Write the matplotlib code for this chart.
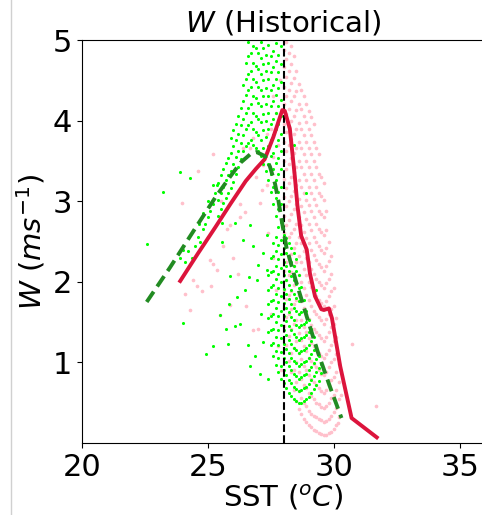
import matplotlib
matplotlib.use("Agg")
import matplotlib.pyplot as plt
from matplotlib.lines import Line2D

# plot colors
crimson = "#DC143C"
forest_green = "#228B22"
lime = "#00FF00"
pink = "#FFC0CB"

# mean curves
obs_sst = [23.9, 24.6, 25.3, 25.9, 26.5, 26.9, 27.25, 27.6, 27.95, 28.05, 28.25, 28.45,
           28.55, 28.7, 28.92, 29.05, 29.25, 29.5, 29.6, 29.8, 29.92, 30.25, 30.7, 31.7]
obs_w = [2.01, 2.35, 2.68, 2.97, 3.25, 3.40, 3.52, 3.80, 4.13, 4.12, 3.90, 3.30,
         2.95, 2.57, 2.40, 2.10, 1.82, 1.66, 1.65, 1.67, 1.55, 0.95, 0.31, 0.07]

model_sst = [22.57, 23.5, 24.55, 25.3, 25.87, 26.3, 26.67, 26.93, 27.26, 27.46, 27.66,
             27.8, 27.95, 28.12, 28.5, 28.92, 29.38, 29.84, 30.3]
model_w = [1.75, 2.18, 2.69, 3.05, 3.30, 3.48, 3.58, 3.61, 3.56, 3.43, 3.22,
           3.00, 2.72, 2.42, 2.00, 1.57, 1.11, 0.70, 0.31]

# pink cloud, column by column
pink_col_sst = [28.0, 28.1, 28.2, 28.3, 28.4, 28.5, 28.6, 28.7, 28.8, 28.9, 29.0, 29.1,
                29.2, 29.3, 29.4, 29.5, 29.6, 29.7, 29.8, 29.9, 30.0, 30.1, 30.2]
pink_col_w = [
    [1.45, 1.68, 1.9, 2.14, 2.36, 2.6, 2.82, 3.05, 3.28, 3.5, 3.74, 3.96, 4.2, 4.42, 4.66, 4.88],
    [1.22, 1.56, 1.79, 2.02, 2.25, 2.48, 2.71, 2.94, 3.17, 3.4, 3.62, 3.86, 4.08, 4.31, 4.54, 4.77, 4.98],
    [1.02, 1.33, 1.6, 1.84, 2.08, 2.3, 2.55, 2.77, 3.0, 3.23, 3.46, 3.7, 3.92, 4.15, 4.38, 4.61, 4.84],
    [0.88, 1.12, 1.42, 1.66, 1.88, 2.12, 2.35, 2.6, 2.84, 3.07, 3.3, 3.53, 3.77, 4.0, 4.24, 4.47, 4.7, 4.93],
    [0.66, 0.9, 1.18, 1.48, 1.72, 1.96, 2.2, 2.42, 2.66, 2.9, 3.13, 3.36, 3.6, 3.83, 4.06, 4.3, 4.53, 4.8],
    [0.52, 0.76, 1.0, 1.26, 1.52, 1.77, 2.0, 2.25, 2.48, 2.72, 2.96, 3.2, 3.43, 3.66, 3.9, 4.13, 4.37, 4.62],
    [0.42, 0.64, 0.88, 1.12, 1.36, 1.6, 1.84, 2.08, 2.32, 2.55, 2.8, 3.03, 3.26, 3.5, 3.73, 3.97, 4.2, 4.45],
    [0.36, 0.56, 0.8, 1.04, 1.28, 1.52, 1.76, 2.0, 2.24, 2.48, 2.7, 2.94, 3.18, 3.42, 3.66, 3.9, 4.14, 4.38],
    [0.3, 0.5, 0.72, 0.96, 1.2, 1.44, 1.68, 1.92, 2.16, 2.38, 2.62, 2.86, 3.1, 3.34, 3.58, 3.82, 4.06, 4.3],
    [0.26, 0.46, 0.68, 0.9, 1.14, 1.38, 1.6, 1.84, 2.08, 2.3, 2.54, 2.78, 3.02, 3.26, 3.5, 3.74, 3.98, 4.2],
    [0.22, 0.4, 0.62, 0.84, 1.06, 1.3, 1.54, 1.78, 2.0, 2.24, 2.48, 2.72, 2.95, 3.18, 3.42, 3.66, 3.9, 4.12],
    [0.2, 0.36, 0.58, 0.8, 1.02, 1.24, 1.46, 1.7, 1.94, 2.16, 2.4, 2.64, 2.88, 3.1, 3.34, 3.58, 3.82, 4.04],
    [0.16, 0.34, 0.54, 0.76, 0.98, 1.2, 1.42, 1.64, 1.87, 2.1, 2.33, 2.56, 2.8, 3.03, 3.26, 3.5, 3.74, 3.96],
    [0.15, 0.32, 0.5, 0.72, 0.94, 1.16, 1.38, 1.6, 1.82, 2.04, 2.27, 2.5, 2.72, 2.95, 3.18, 3.42, 3.66],
    [0.13, 0.3, 0.48, 0.68, 0.9, 1.12, 1.34, 1.56, 1.78, 2.0, 2.22, 2.44, 2.66, 2.88, 3.1, 3.34, 3.58],
    [0.11, 0.28, 0.45, 0.65, 0.86, 1.08, 1.3, 1.52, 1.74, 1.96, 2.18, 2.4, 2.62, 2.84, 3.06, 3.3],
    [0.1, 0.26, 0.44, 0.62, 0.84, 1.05, 1.27, 1.48, 1.7, 1.92, 2.14, 2.36, 2.58, 2.8, 3.02, 3.22],
    [0.1, 0.27, 0.46, 0.66, 0.88, 1.1, 1.32, 1.54, 1.76, 1.98, 2.2, 2.42, 2.64, 2.88],
    [0.12, 0.3, 0.5, 0.72, 0.94, 1.16, 1.38, 1.6, 1.82, 2.04, 2.26, 2.5],
    [0.14, 0.34, 0.56, 0.78, 1.0, 1.22, 1.44, 1.66, 1.88, 2.1, 2.32],
    [0.17, 0.38, 0.6, 0.82, 1.04, 1.26, 1.48, 1.7, 1.92],
    [0.22, 0.44, 0.66, 0.88, 1.1, 1.32, 1.55],
    [0.32, 0.54, 0.76, 0.98],
]
pink_extra_sst = [24.62, 23.99, 25.08, 25.2, 25.35, 24.4, 24.55, 24.75, 25.48, 25.87,
                  26.53, 27.0, 26.8, 25.14, 25.74, 25.87, 26.27, 27.06, 26.47, 26.27,
                  27.13, 27.33, 25.21, 26.8, 27.33, 26.67, 26.4, 27.5, 27.7, 27.8,
                  27.6, 27.85, 24.1, 24.3, 25.6, 26.0, 26.2, 27.4, 27.6, 27.7,
                  27.5, 27.8, 27.9, 30.7, 31.67, 30.16, 30.3, 26.9, 27.2, 27.6,
                  25.5, 25.0]
pink_extra_w = [3.37, 2.98, 2.27, 2.22, 2.15, 2.02, 1.95, 1.88, 1.59, 1.71,
                1.70, 1.42, 1.40, 1.95, 2.65, 2.71, 2.81, 2.98, 2.87, 2.96,
                3.14, 3.20, 3.58, 3.79, 3.83, 3.66, 3.66, 3.90, 4.10, 3.70,
                4.30, 4.50, 1.85, 1.65, 2.45, 2.30, 2.10, 2.60, 2.30, 1.90,
                1.60, 1.20, 0.90, 1.23, 0.46, 0.25, 0.60, 3.30, 3.45, 3.55,
                3.00, 2.55]

# green cloud, upper part (column by column)
green_top_sst = [25.4, 25.5, 25.6, 25.7, 25.8, 25.9, 26.0, 26.1, 26.2, 26.3, 26.4, 26.5,
                 26.6, 26.7, 26.8, 26.9, 27.0, 27.1, 27.2, 27.3, 27.4, 27.5, 27.6, 27.7,
                 27.8, 27.9]
green_top_w = [
    [2.82, 3.02, 3.22],
    [2.9, 3.1, 3.32],
    [2.98, 3.18, 3.4],
    [3.04, 3.26, 3.48],
    [3.1, 3.32, 3.54],
    [3.16, 3.38, 3.6, 3.78],
    [3.24, 3.46, 3.68, 3.88],
    [3.34, 3.55, 3.76, 3.96],
    [3.42, 3.62, 3.84, 4.06],
    [3.52, 3.72, 3.94, 4.16],
    [3.62, 3.82, 4.02, 4.24, 4.44],
    [3.68, 3.9, 4.1, 4.32, 4.52, 4.72],
    [3.72, 3.94, 4.16, 4.38, 4.58, 4.8, 4.98],
    [3.76, 3.98, 4.2, 4.42, 4.62, 4.84],
    [3.7, 3.9, 4.1, 4.3, 4.52, 4.72, 4.92],
    [3.66, 3.86, 4.06, 4.28, 4.48, 4.68, 4.9],
    [3.62, 3.82, 4.02, 4.22, 4.42, 4.64, 4.84],
    [3.56, 3.76, 3.98, 4.18, 4.38, 4.58, 4.78, 4.98],
    [3.46, 3.66, 3.88, 4.08, 4.3, 4.5, 4.7, 4.9],
    [3.38, 3.58, 3.8, 4.0, 4.2, 4.4, 4.62, 4.82],
    [3.26, 3.46, 3.68, 3.9, 4.1, 4.3, 4.52, 4.72, 4.94],
    [3.12, 3.34, 3.56, 3.76, 3.96, 4.18, 4.38, 4.6, 4.8],
    [2.96, 3.18, 3.4, 3.6, 3.82, 4.02, 4.24, 4.44, 4.66, 4.86],
    [2.82, 3.04, 3.26, 3.48, 3.68, 3.9, 4.1, 4.32, 4.52, 4.74, 4.96],
    [2.68, 2.9, 3.12, 3.34, 3.54, 3.76, 3.96, 4.18, 4.4, 4.6, 4.82],
    [2.52, 2.74, 2.96, 3.18, 3.4, 3.62, 3.84, 4.06, 4.26, 4.48, 4.7, 4.92],
]

# green cloud, lower dense part (column by column)
green_low_sst = [27.4, 27.5, 27.6, 27.7, 27.8, 27.9, 28.0, 28.1, 28.2, 28.3, 28.4,
                 28.5, 28.6, 28.7, 28.8, 28.9, 29.0, 29.1, 29.2, 29.3, 29.4, 29.5]
green_low_w = [
    [1.38, 1.55, 1.72, 1.9, 2.08],
    [1.22, 1.4, 1.58, 1.76, 1.94, 2.12, 2.3],
    [1.08, 1.24, 1.42, 1.6, 1.78, 1.96, 2.14, 2.32, 2.48],
    [0.97, 1.14, 1.32, 1.5, 1.67, 1.85, 2.03, 2.2, 2.38, 2.56],
    [0.88, 1.05, 1.22, 1.4, 1.57, 1.75, 1.92, 2.1, 2.28, 2.46],
    [0.8, 0.96, 1.13, 1.3, 1.47, 1.64, 1.82, 2.0, 2.17, 2.35],
    [0.74, 0.9, 1.06, 1.23, 1.4, 1.57, 1.74, 1.91, 2.08, 2.25, 2.42, 2.58],
    [0.68, 0.84, 1.0, 1.17, 1.34, 1.51, 1.68, 1.85, 2.02, 2.19, 2.36, 2.54],
    [0.62, 0.78, 0.95, 1.12, 1.28, 1.45, 1.62, 1.79, 1.96, 2.13, 2.3, 2.48],
    [0.58, 0.74, 0.9, 1.06, 1.23, 1.4, 1.56, 1.73, 1.9, 2.07, 2.24, 2.42],
    [0.54, 0.7, 0.86, 1.02, 1.18, 1.35, 1.52, 1.68, 1.85, 2.02, 2.2, 2.36],
    [0.52, 0.67, 0.83, 0.99, 1.15, 1.31, 1.47, 1.64, 1.8, 1.97, 2.14, 2.28],
    [0.5, 0.65, 0.8, 0.96, 1.12, 1.28, 1.44, 1.6, 1.76, 1.92, 2.08],
    [0.5, 0.66, 0.82, 0.98, 1.14, 1.3, 1.46, 1.62, 1.78, 1.93],
    [0.52, 0.68, 0.84, 1.0, 1.16, 1.32, 1.48, 1.64, 1.78],
    [0.54, 0.7, 0.86, 1.02, 1.18, 1.34, 1.5, 1.64],
    [0.57, 0.73, 0.9, 1.06, 1.22, 1.38, 1.53],
    [0.62, 0.78, 0.94, 1.1, 1.26, 1.42],
    [0.67, 0.83, 0.99, 1.15, 1.32],
    [0.72, 0.88, 1.04, 1.2],
    [0.77, 0.93, 1.08],
    [0.87, 0.98],
]

# scattered green points outside the two dense parts
green_extra_sst = [22.57, 23.23, 23.89, 24.29, 24.02, 23.9, 24.0, 24.1, 24.2, 24.35,
                   24.94, 25.21, 25.81, 25.71, 26.07, 26.27, 26.67, 26.87, 27.39, 26.6,
                   25.48, 25.85, 26.17, 26.47, 26.64, 26.96, 27.0, 26.8, 27.17, 27.33,
                   27.33, 26.4, 25.54, 25.87, 26.67, 26.07, 25.54, 27.1, 27.2, 27.05,
                   24.5, 24.6, 24.7, 24.8, 24.9, 25.0, 25.1, 25.2, 25.3, 25.35,
                   24.65, 25.0, 25.2, 24.8, 28.4, 28.9, 29.3]
green_extra_w = [2.47, 3.11, 3.36, 3.29, 1.49, 2.30, 2.40, 2.25, 2.38, 2.30,
                 1.11, 1.20, 1.23, 1.41, 1.45, 1.48, 0.95, 1.08, 0.79, 1.22,
                 1.59, 1.72, 1.81, 1.90, 2.06, 2.02, 2.21, 2.44, 2.36, 2.15,
                 2.58, 2.52, 2.50, 2.07, 2.71, 2.73, 2.73, 1.60, 1.25, 0.85,
                 2.45, 2.55, 2.50, 2.65, 2.72, 2.80, 2.88, 2.97, 3.10, 3.20,
                 2.72, 3.00, 3.20, 2.85, 3.70, 3.10, 1.90]


def flatten(col_x, col_y):
    xs, ys = [], []
    for x, column in zip(col_x, col_y):
        xs += [x] * len(column)
        ys += column
    return xs, ys


pink_sst, pink_w = flatten(pink_col_sst, pink_col_w)
pink_sst += pink_extra_sst
pink_w += pink_extra_w

top_sst, top_w = flatten(green_top_sst, green_top_w)
low_sst, low_w = flatten(green_low_sst, green_low_w)
green_sst = top_sst + low_sst + green_extra_sst
green_w = top_w + low_w + green_extra_w

fig = plt.figure(figsize=(4.82, 5.15), dpi=100)
ax = fig.add_axes([0.170, 0.1398, 0.8365, 0.7825])

ax.scatter(pink_sst, pink_w, s=7, color=pink, linewidths=0, zorder=1)
ax.scatter(green_sst, green_w, s=5, color=lime, linewidths=0, zorder=2)
ax.axvline(28, color="black", linestyle="--", linewidth=1.5, zorder=3)
ax.plot(obs_sst, obs_w, color=crimson, linewidth=2.8, zorder=4)
ax.plot(model_sst, model_w, color=forest_green, linewidth=2.8, linestyle=(0, (3.2, 1.6)), zorder=4)

ax.set_xlim(20, 36)
ax.set_ylim(0, 5)
ax.set_xticks([20, 25, 30, 35])
ax.set_yticks([1, 2, 3, 4, 5])
ax.tick_params(labelsize=22)
ax.spines["right"].set_visible(False)

ax.set_title("$W$ (Historical)", fontsize=21)
ax.set_xlabel("SST ($^oC$)", fontsize=21, labelpad=1)
ax.set_ylabel("$W\\ (ms^{-1})$", fontsize=21)

# thin border line at the left edge of the screenshot
fig.add_artist(Line2D([11 / 482, 11 / 482], [0, 1], color="#d0d0d0", linewidth=1,
                      transform=fig.transFigure))

fig.savefig("out.png", dpi=100)
